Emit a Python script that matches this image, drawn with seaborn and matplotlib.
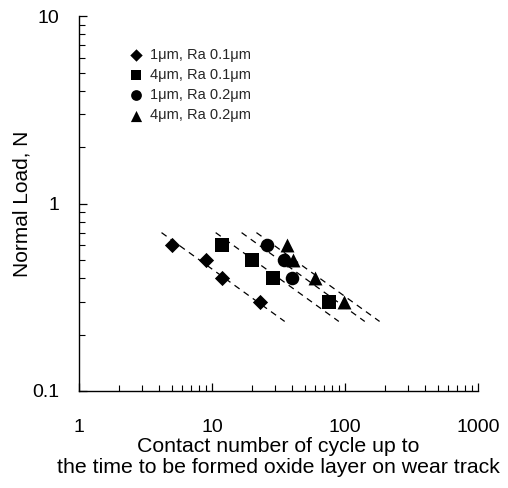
import numpy as np
import pandas as pd
import matplotlib
matplotlib.use("Agg")
import matplotlib.pyplot as plt
import seaborn as sns

sns.set_theme(style="ticks")
plt.rcParams['font.family'] = ['Liberation Sans', 'DejaVu Sans']

series = ["1\u03bcm, Ra 0.1\u03bcm", "4\u03bcm, Ra 0.1\u03bcm", "1\u03bcm, Ra 0.2\u03bcm", "4\u03bcm, Ra 0.2\u03bcm"]
cycles_1_01 = [5, 9, 12, 23]
load_1_01 = [0.6, 0.5, 0.4, 0.3]
cycles_4_01 = [12, 20, 29, 76]
load_4_01 = [0.6, 0.5, 0.4, 0.3]
cycles_1_02 = [26, 35, 40]
load_1_02 = [0.6, 0.5, 0.4]
cycles_4_02 = [37, 41, 60, 98]
load_4_02 = [0.6, 0.5, 0.4, 0.3]
markers = ["D", "s", "o", "^"]
sizes = [60, 100, 95, 100]
leg_sizes = [40, 60, 60, 65]

xs = [cycles_1_01, cycles_4_01, cycles_1_02, cycles_4_02]
ys = [load_1_01, load_4_01, load_1_02, load_4_02]

df = pd.concat([pd.DataFrame({"cycles": x, "load": y, "series": s})
                for x, y, s in zip(xs, ys, series)], ignore_index=True)

fig = plt.figure(figsize=(5.08, 4.88), dpi=100)
ax = fig.add_axes([0.1555, 0.1988, 0.785, 0.768])

# trend lines: common slope (pooled regression of log cycles on log load)
lxs = [np.log10(x) for x in xs]
lys = [np.log10(y) for y in ys]
sxy = sum(np.sum((lx - lx.mean()) * (ly - ly.mean())) for lx, ly in zip(lxs, lys))
syy = sum(np.sum((ly - ly.mean()) ** 2) for ly in lys)
k = sxy / syy  # d(log x) / d(log y)
y_hi, y_lo = 0.7, 0.235
for lx, ly in zip(lxs, lys):
    yl = np.log10([y_hi, y_lo])
    xl = lx.mean() + k * (yl - ly.mean())
    sns.lineplot(x=10 ** xl, y=10 ** yl, ax=ax, color="black", lw=0.9,
                 linestyle=(0, (5, 4)), legend=False)

for s, m, sz in zip(series, markers, sizes):
    sub = df[df.series == s]
    sns.scatterplot(data=sub, x="cycles", y="load", marker=m, s=sz, color="black",
                    edgecolor="black", linewidth=0, ax=ax, label=s, zorder=3)

ax.set_xscale("log")
ax.set_yscale("log")
ax.set_xlim(1, 1000)
ax.set_ylim(0.1, 10)
ax.set_xticks([1, 10, 100, 1000])
ax.set_xticklabels(["1", "10", "100", "1000"])
ax.set_yticks([0.1, 1, 10])
ax.set_yticklabels(["0.1", "1", "10"])
ax.tick_params(which="major", direction="in", length=6, width=0.9, labelsize=14,
               color="black", labelcolor="black")
ax.tick_params(which="minor", direction="in", length=4, width=0.8, color="black")
ax.tick_params(axis="y", which="major", pad=14)
ax.tick_params(axis="x", which="major", pad=20)
sns.despine(ax=ax)
for sp in ["left", "bottom"]:
    ax.spines[sp].set_color("black")
    ax.spines[sp].set_linewidth(1.0)

ax.set_xlabel("Contact number of cycle up to\nthe time to be formed oxide layer on wear track",
              fontsize=15.3, labelpad=1, color="black", linespacing=1.12)
ax.set_ylabel("Normal Load, N", fontsize=15, labelpad=1, color="black")

leg = ax.legend(loc="upper left", bbox_to_anchor=(0.12, 0.915), frameon=False,
                fontsize=10.5, handletextpad=0.4, labelspacing=0.42, borderaxespad=0,
                handlelength=1.2, borderpad=0)
for h, ls in zip(leg.legend_handles, leg_sizes):
    h.set_sizes([ls])

fig.savefig("out.png", dpi=100, facecolor="white")
